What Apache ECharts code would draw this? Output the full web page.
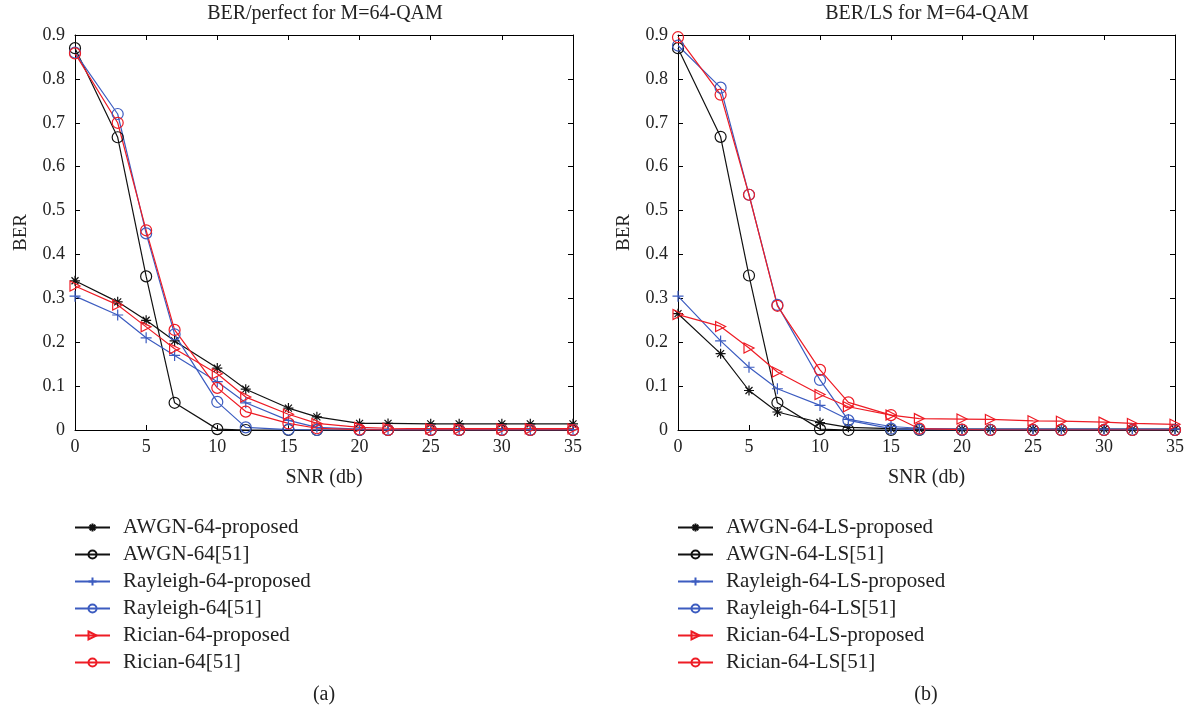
<!DOCTYPE html>
<html>
<head>
<meta charset="utf-8">
<script src="https://cdn.jsdelivr.net/npm/echarts@6/dist/echarts.min.js"></script>
<style>
  html, body { margin: 0; padding: 0; background: #fff; }
  #chart { width: 1192px; height: 712px; }
</style>
</head>
<body>
<div id="chart"></div>
<script>
// SNR points (dB) shared by every curve
const snr = [0, 3, 5, 7, 10, 12, 15, 17, 20, 22, 25, 27, 30, 32, 35];

// (a) perfect channel knowledge
const awgnProposed     = [0.340, 0.292, 0.250, 0.203, 0.141, 0.093, 0.050, 0.030, 0.015, 0.015, 0.014, 0.014, 0.014, 0.014, 0.014];
const awgnRef          = [0.870, 0.667, 0.350, 0.062, 0.002, 0.000, 0.000, 0.000, 0.000, 0.000, 0.000, 0.000, 0.000, 0.000, 0.000];
const rayleighProposed = [0.305, 0.262, 0.210, 0.170, 0.110, 0.062, 0.022, 0.006, 0.002, 0.001, 0.001, 0.001, 0.001, 0.001, 0.001];
const rayleighRef      = [0.860, 0.720, 0.448, 0.218, 0.064, 0.006, 0.001, 0.000, 0.000, 0.000, 0.000, 0.000, 0.000, 0.000, 0.000];
const ricianProposed   = [0.328, 0.285, 0.235, 0.185, 0.128, 0.075, 0.036, 0.015, 0.006, 0.004, 0.003, 0.003, 0.003, 0.003, 0.003];
const ricianRef        = [0.858, 0.700, 0.455, 0.228, 0.096, 0.042, 0.015, 0.004, 0.001, 0.000, 0.000, 0.000, 0.000, 0.000, 0.000];

// (b) LS channel estimation
const awgnLsProposed     = [0.265, 0.174, 0.090, 0.041, 0.017, 0.006, 0.003, 0.002, 0.002, 0.002, 0.002, 0.002, 0.002, 0.002, 0.002];
const awgnLsRef          = [0.870, 0.668, 0.352, 0.062, 0.002, 0.000, 0.000, 0.000, 0.000, 0.000, 0.000, 0.000, 0.000, 0.000, 0.000];
const rayleighLsProposed = [0.305, 0.203, 0.143, 0.094, 0.056, 0.024, 0.008, 0.004, 0.002, 0.002, 0.002, 0.002, 0.002, 0.002, 0.002];
const rayleighLsRef      = [0.876, 0.780, 0.536, 0.285, 0.114, 0.022, 0.003, 0.001, 0.000, 0.000, 0.000, 0.000, 0.000, 0.000, 0.000];
const ricianLsProposed   = [0.263, 0.236, 0.187, 0.132, 0.081, 0.053, 0.034, 0.026, 0.025, 0.024, 0.021, 0.020, 0.018, 0.015, 0.013];
const ricianLsRef        = [0.895, 0.764, 0.536, 0.283, 0.137, 0.063, 0.034, 0.003, 0.001, 0.000, 0.000, 0.000, 0.000, 0.000, 0.000];

// axis ticks
const snrTicks = [0, 5, 10, 15, 20, 25, 30, 35];
const berTicks = [0, 0.1, 0.2, 0.3, 0.4, 0.5, 0.6, 0.7, 0.8, 0.9];

const FONT = '"Liberation Serif", "DejaVu Serif", serif';
const TEXT = '#222222';
const BLACK = '#111111';
const BLUE = '#3c5cc0';
const RED = '#ee1c25';

const STAR = 'path://M5,0L5,10M0,5L10,5M1.5,1.5L8.5,8.5M1.5,8.5L8.5,1.5';
const PLUS = 'path://M5,0L5,10M0,5L10,5';
const TRI_RIGHT = 'path://M0,0L10,5L0,10Z';

function pairs(ys) { return snr.map((x, i) => [x, ys[i]]); }

function makeSeries(name, ys, color, symbol, size, idx) {
  return {
    name: name,
    type: 'line',
    xAxisIndex: idx * 2,
    yAxisIndex: idx * 2,
    data: pairs(ys),
    symbol: symbol,
    symbolSize: size,
    showAllSymbol: true,
    animation: false,
    lineStyle: { color: color, width: 1.2 },
    itemStyle: { color: 'rgba(255,255,255,0)', borderColor: color, borderWidth: 1.2 },
    emphasis: { disabled: true },
    z: 3
  };
}

const grids = [
  { left: 75, top: 35, width: 498, height: 395 },
  { left: 678, top: 35, width: 497, height: 395 }
];

const xAxes = [];
const yAxes = [];
[0, 1].forEach(g => {
  const common = {
    type: 'value', gridIndex: g, min: 0, max: 35, interval: 5,
    axisLine: { show: true, onZero: false, lineStyle: { color: '#000', width: 1 } },
    axisTick: { show: true, inside: true, length: 5, lineStyle: { color: '#000' } },
    splitLine: { show: false }
  };
  xAxes.push(Object.assign({}, common, {
    position: 'bottom',
    name: 'SNR (db)', nameLocation: 'middle', nameGap: 38,
    nameTextStyle: { fontFamily: FONT, fontSize: 20, color: TEXT },
    axisLabel: { fontFamily: FONT, fontSize: 18, color: TEXT, margin: 8,
      formatter: v => snrTicks.includes(v) ? String(v) : '' }
  }));
  xAxes.push(Object.assign({}, common, { position: 'top', axisLabel: { show: false } }));

  const ycommon = {
    type: 'value', gridIndex: g, min: 0, max: 0.9, interval: 0.1,
    axisLine: { show: true, onZero: false, lineStyle: { color: '#000', width: 1 } },
    axisTick: { show: true, inside: true, length: 5, lineStyle: { color: '#000' } },
    splitLine: { show: false }
  };
  yAxes.push(Object.assign({}, ycommon, {
    position: 'left',
    name: 'BER', nameLocation: 'middle', nameGap: 44,
    nameTextStyle: { fontFamily: FONT, fontSize: 19, color: TEXT },
    axisLabel: { fontFamily: FONT, fontSize: 18, color: TEXT, margin: 10,
      formatter: v => {
        const t = berTicks.find(b => Math.abs(b - v) < 1e-6);
        if (t === undefined) return '';
        return t === 0 ? '0' : t.toFixed(1);
      } }
  }));
  yAxes.push(Object.assign({}, ycommon, { position: 'right', axisLabel: { show: false } }));
});

const seriesA = [
  makeSeries('AWGN-64-proposed', awgnProposed, BLACK, STAR, 10, 0),
  makeSeries('AWGN-64[51]', awgnRef, BLACK, 'circle', 11, 0),
  makeSeries('Rayleigh-64-proposed', rayleighProposed, BLUE, PLUS, 11, 0),
  makeSeries('Rayleigh-64[51]', rayleighRef, BLUE, 'circle', 11, 0),
  makeSeries('Rician-64-proposed', ricianProposed, RED, TRI_RIGHT, 10, 0),
  makeSeries('Rician-64[51]', ricianRef, RED, 'circle', 11, 0)
];
const seriesB = [
  makeSeries('AWGN-64-LS-proposed', awgnLsProposed, BLACK, STAR, 10, 1),
  makeSeries('AWGN-64-LS[51]', awgnLsRef, BLACK, 'circle', 11, 1),
  makeSeries('Rayleigh-64-LS-proposed', rayleighLsProposed, BLUE, PLUS, 11, 1),
  makeSeries('Rayleigh-64-LS[51]', rayleighLsRef, BLUE, 'circle', 11, 1),
  makeSeries('Rician-64-LS-proposed', ricianLsProposed, RED, TRI_RIGHT, 10, 1),
  makeSeries('Rician-64-LS[51]', ricianLsRef, RED, 'circle', 11, 1)
];

function legendFor(series, left) {
  return {
    orient: 'vertical', left: left, top: 512,
    itemWidth: 35, itemHeight: 10, itemGap: 6,
    selectedMode: false,
    data: series.map(s => s.name),
    textStyle: { fontFamily: FONT, fontSize: 21, lineHeight: 20, color: TEXT, padding: [0, 0, 0, 8] }
  };
}

const chart = echarts.init(document.getElementById('chart'), null, { renderer: 'canvas' });
chart.setOption({
  backgroundColor: '#fff',
  animation: false,
  grid: grids,
  xAxis: xAxes,
  yAxis: yAxes,
  legend: [legendFor(seriesA, 69), legendFor(seriesB, 672)],
  series: seriesA.concat(seriesB),
  graphic: [
    { type: 'text', x: 325, y: 14, style: { text: 'BER/perfect for M=64-QAM', fontFamily: FONT, fontSize: 20, fill: TEXT, align: 'center', verticalAlign: 'middle' } },
    { type: 'text', x: 927, y: 14, style: { text: 'BER/LS for M=64-QAM', fontFamily: FONT, fontSize: 20, fill: TEXT, align: 'center', verticalAlign: 'middle' } },
    { type: 'text', x: 324, y: 695, style: { text: '(a)', fontFamily: FONT, fontSize: 20, fill: TEXT, align: 'center', verticalAlign: 'middle' } },
    { type: 'text', x: 926, y: 695, style: { text: '(b)', fontFamily: FONT, fontSize: 20, fill: TEXT, align: 'center', verticalAlign: 'middle' } }
  ]
});
</script>
</body>
</html>
